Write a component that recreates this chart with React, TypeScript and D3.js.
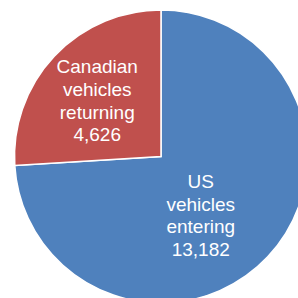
import React from "react";
import * as d3 from "d3";

const categories = ["US vehicles entering", "Canadian vehicles returning"];
const labelLines = [["US", "vehicles", "entering"], ["Canadian", "vehicles", "returning"]];
const values = [13182, 4626];
const colors = ["#4F81BD", "#C0504D"];
const labelNudge = [[-18.5, 10.5], [-5.5, 5.5]];

export default function App() {
  const W = 298, H = 298;
  const cx = 161, cy = 156.5, R = 146.5;
  const pie = d3.pie<number>().sort(null).value((d) => d);
  const arcs = pie(values);
  const arc = d3.arc<d3.PieArcDatum<number>>().innerRadius(0).outerRadius(R);
  const labelArc = d3.arc<d3.PieArcDatum<number>>().innerRadius(80).outerRadius(80);
  const fmt = d3.format(",");
  const lineH = 22.6;
  return (
    <svg width={W} height={H} style={{ position: "absolute", left: 0, top: 0 }}>
      <rect width={W} height={H} fill="#fff" />
      <g transform={`translate(${cx},${cy})`}>
        {arcs.map((a, i) => (
          <path key={categories[i]} d={arc(a) || ""} fill={colors[i]} stroke="#fff" strokeWidth={1.5} />
        ))}
        {arcs.map((a, i) => {
          const [x0, y0] = labelArc.centroid(a);
          const x = x0 + labelNudge[i][0];
          const y = y0 + labelNudge[i][1];
          const lines = [...labelLines[i], fmt(values[i])];
          const firstBase = y - ((lines.length - 1) * lineH) / 2;
          return (
            <text key={"t" + i} x={x} y={firstBase} textAnchor="middle" fill="#fff"
              fontFamily="'Liberation Sans', Arial, sans-serif" fontSize={19}>
              {lines.map((l, j) => (
                <tspan key={j} x={x} y={firstBase + j * lineH}>{l}</tspan>
              ))}
            </text>
          );
        })}
      </g>
    </svg>
  );
}
